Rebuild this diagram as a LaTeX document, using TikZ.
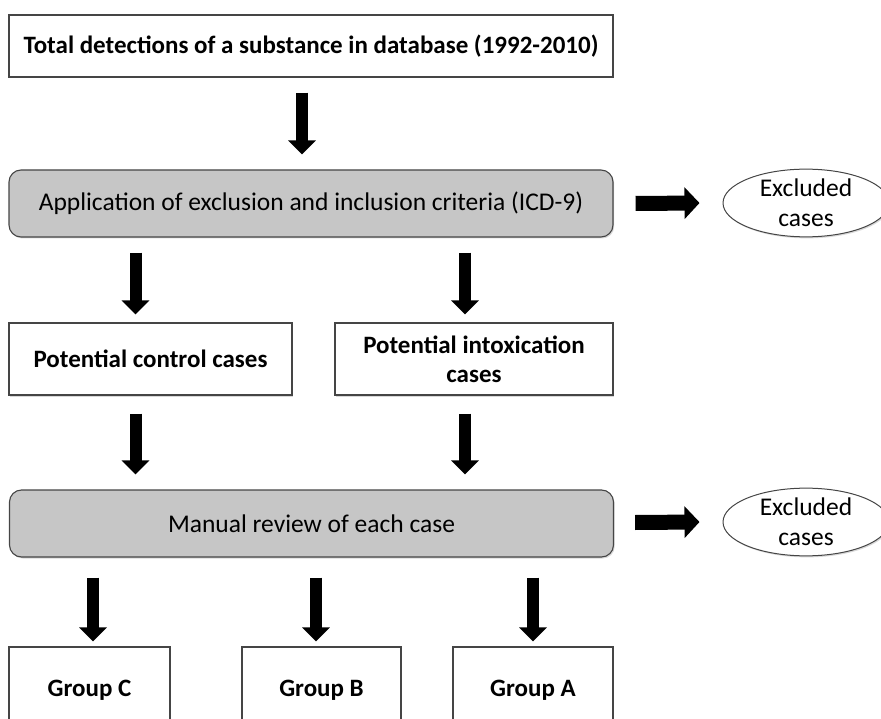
\documentclass[tikz,border=0pt]{standalone}
\usepackage{fontspec}
\setmainfont{Carlito}
\usetikzlibrary{arrows.meta,calc,shapes.geometric,shadows}

\definecolor{boxline}{HTML}{454545}
\definecolor{boxgrey}{HTML}{C6C6C6}

\tikzset{
	plainbox/.style={draw=boxline, line width=1.1pt, fill=white, align=center, inner sep=0pt,
		font=\fontsize{25}{29}\selectfont\bfseries,
		drop shadow={shadow xshift=1.2pt, shadow yshift=-1.5pt, fill=black!30, opacity=0.5}},
	greybox/.style={plainbox, fill=boxgrey, rounded corners=12pt, font=\fontsize{25.5}{29}\selectfont},
	outcase/.style={ellipse, draw=boxline, line width=1pt, fill=white, align=center, inner sep=0pt,
		minimum width=166pt, minimum height=67pt, font=\fontsize{25.5}{30}\selectfont,
		drop shadow={shadow xshift=1.2pt, shadow yshift=-1.5pt, fill=black!30, opacity=0.5}},
	downarrow/.style={line width=12pt, -{Triangle[length=14pt,width=27pt]}},
	sidearrow/.style={line width=15pt, -{Triangle[length=15pt,width=31pt]}}
}

\begin{document}
\begin{tikzpicture}[x=1pt, y=-1pt]
		
		\useasboundingbox (0,0) rectangle (881,719);
		\clip (0,0) rectangle (881,719);
		
		\node[plainbox, minimum width=604pt, minimum height=62pt] (total) at (311,46)
		{Total detections of a substance in database (1992-2010)};
		\node[greybox, minimum width=604pt, minimum height=67pt] (criteria) at (311,203.5)
		{Application of exclusion and inclusion criteria (ICD-9)};
		\node[outcase] (excl1) at (806,203) {Excluded\\cases};
		
		\node[plainbox, minimum width=283pt, minimum height=72pt] (control) at (150.5,359)
		{Potential control cases};
		\node[plainbox, minimum width=278pt, minimum height=72pt] (intox) at (474,359)
		{Potential intoxication\\cases};
		
		\node[greybox, minimum width=604pt, minimum height=67pt] (review) at (311.5,523.5)
		{Manual review of each case};
		\node[outcase] (excl2) at (806,522) {Excluded\\cases};
		
		\node[plainbox, minimum width=161pt, minimum height=86pt] (groupC) at (89.5,690) {Group C};
		\node[plainbox, minimum width=159pt, minimum height=86pt] (groupB) at (321.5,690) {Group B};
		\node[plainbox, minimum width=160pt, minimum height=86pt] (groupA) at (533,690) {Group A};
		
		% block arrows
		\draw[downarrow] ($(total.south)+(-9,15)$) -- ($(criteria.north)+(-9,-15)$);
		\draw[sidearrow] ($(criteria.east)+(22,0)$) -- ($(excl1.west)+(-23,0)$);
		
		\draw[downarrow] ($(criteria.south -| control.north)+(-15,15)$) -- ($(control.north)+(-15,-8)$);
		\draw[downarrow] ($(criteria.south -| intox.north)+(-9,15)$) -- ($(intox.north)+(-9,-8)$);
		
		\draw[downarrow] ($(control.south)+(-15,18)$) -- ($(review.north -| control.south)+(-15,-15)$);
		\draw[downarrow] ($(intox.south)+(-9,18)$) -- ($(review.north -| intox.south)+(-9,-15)$);
		
		\draw[sidearrow] ($(review.east)+(21,-1)$) -- ($(excl2.west)+(-23,0)$);
		
		\draw[downarrow] ($(review.south -| groupC.north)+(3.5,20)$) -- ($(groupC.north)+(3.5,-5)$);
		\draw[downarrow] ($(review.south -| groupB.north)+(-5.5,20)$) -- ($(groupB.north)+(-5.5,-5)$);
		\draw[downarrow] ($(review.south -| groupA.north)+(0,20)$) -- ($(groupA.north)+(0,-5)$);
		
	\end{tikzpicture}
\end{document}
